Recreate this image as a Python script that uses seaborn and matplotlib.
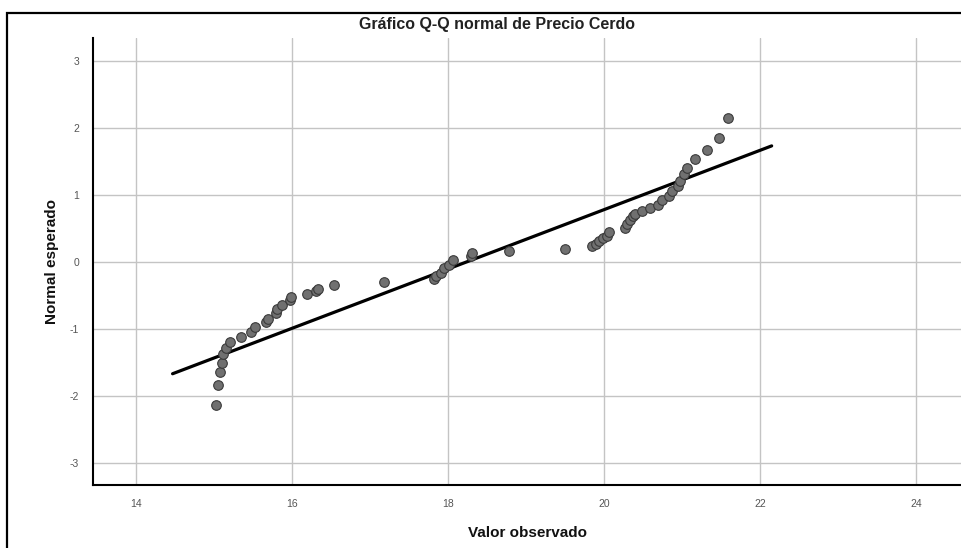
"""Q-Q normal plot of pork price (Precio Cerdo) using seaborn + matplotlib"""
import matplotlib
matplotlib.use("Agg")
import matplotlib.pyplot as plt
import matplotlib.patches as mpatches
import seaborn as sns
import pandas as pd

observed = [
    15.03, 15.05, 15.08, 15.10, 15.12, 15.16, 15.20, 15.35, 15.47, 15.53,
    15.67, 15.69, 15.79, 15.81, 15.87, 15.97, 15.99, 16.19, 16.31, 16.33,
    16.54,
    17.18, 17.82, 17.85, 17.91, 17.95, 18.01, 18.06, 18.29, 18.31, 18.78,
    19.50,
    19.85, 19.90, 19.94, 19.99, 20.04, 20.07, 20.27, 20.30, 20.34, 20.37,
    20.40, 20.49, 20.59, 20.69, 20.74, 20.84, 20.87, 20.95, 20.97, 21.03,
    21.06, 21.17, 21.32, 21.48, 21.59,
]
expected = [
    -2.14, -1.84, -1.65, -1.51, -1.37, -1.28, -1.20, -1.12, -1.04, -0.97,
    -0.90, -0.85, -0.77, -0.71, -0.64, -0.57, -0.53, -0.48, -0.44, -0.40,
    -0.35,
    -0.30, -0.26, -0.21, -0.16, -0.09, -0.05, 0.03, 0.09, 0.13, 0.16,
    0.19,
    0.23, 0.27, 0.31, 0.35, 0.39, 0.45, 0.50, 0.56, 0.62, 0.68,
    0.72, 0.76, 0.81, 0.85, 0.92, 0.98, 1.05, 1.13, 1.21, 1.31,
    1.40, 1.53, 1.67, 1.85, 2.15,
]

# reference line end points
line_x = [14.47, 22.15]
line_y = [-1.67, 1.73]

x_ticks = [14, 16, 18, 20, 22, 24]
y_ticks = [-3, -2, -1, 0, 1, 2, 3]


def main():
    sns.set_style("white")
    plt.rcParams['font.family'] = ['Liberation Sans', 'DejaVu Sans']
    plt.rcParams['axes.unicode_minus'] = False

    df = pd.DataFrame({"observado": observed, "esperado": expected})
    ref = pd.DataFrame({"x": line_x, "y": line_y})

    fig = plt.figure(figsize=(9.62, 5.48), dpi=100)
    ax = fig.add_axes([93 / 962, 1 - 485 / 548, 1 - 93 / 962, (485 - 38) / 548])

    ax.set_xticks(x_ticks)
    ax.set_yticks(y_ticks)
    ax.grid(True, color="#c4c4c4", linewidth=1.0)
    ax.set_axisbelow(True)

    sns.lineplot(data=ref, x="x", y="y", color="black", linewidth=2.3, ax=ax,
                 zorder=2)
    sns.scatterplot(data=df, x="observado", y="esperado", s=48,
                    color="#707070", edgecolor="#3a3a3a", linewidth=0.8,
                    ax=ax, zorder=3)

    ax.set_xlim(13.45, 24.59)
    ax.set_ylim(-3.33, 3.34)

    for side in ["top", "right"]:
        ax.spines[side].set_visible(False)
    for side in ["left", "bottom"]:
        ax.spines[side].set_color("black")
        ax.spines[side].set_linewidth(1.5)

    ax.tick_params(axis="both", length=0, labelsize=7.5, colors="#555555",
                   pad=10)
    ax.set_xlabel("Valor observado", fontsize=11, fontweight="bold",
                  labelpad=12, color="#111111")
    ax.set_ylabel("Normal esperado", fontsize=11, fontweight="bold",
                  labelpad=8, color="#111111")

    fig.text(497 / 962, 1 - 25 / 548, "Gráfico Q-Q normal de Precio Cerdo",
             ha="center", va="center", fontsize=11.5, fontweight="bold",
             color="#222222")

    # outer frame
    frame = mpatches.Rectangle((7 / 962, -0.1), 1.2, 1.1 - 13 / 548,
                               transform=fig.transFigure, fill=False,
                               edgecolor="black", linewidth=1.6)
    fig.patches.append(frame)

    fig.savefig("out.png", dpi=100)


if __name__ == '__main__':
    main()
